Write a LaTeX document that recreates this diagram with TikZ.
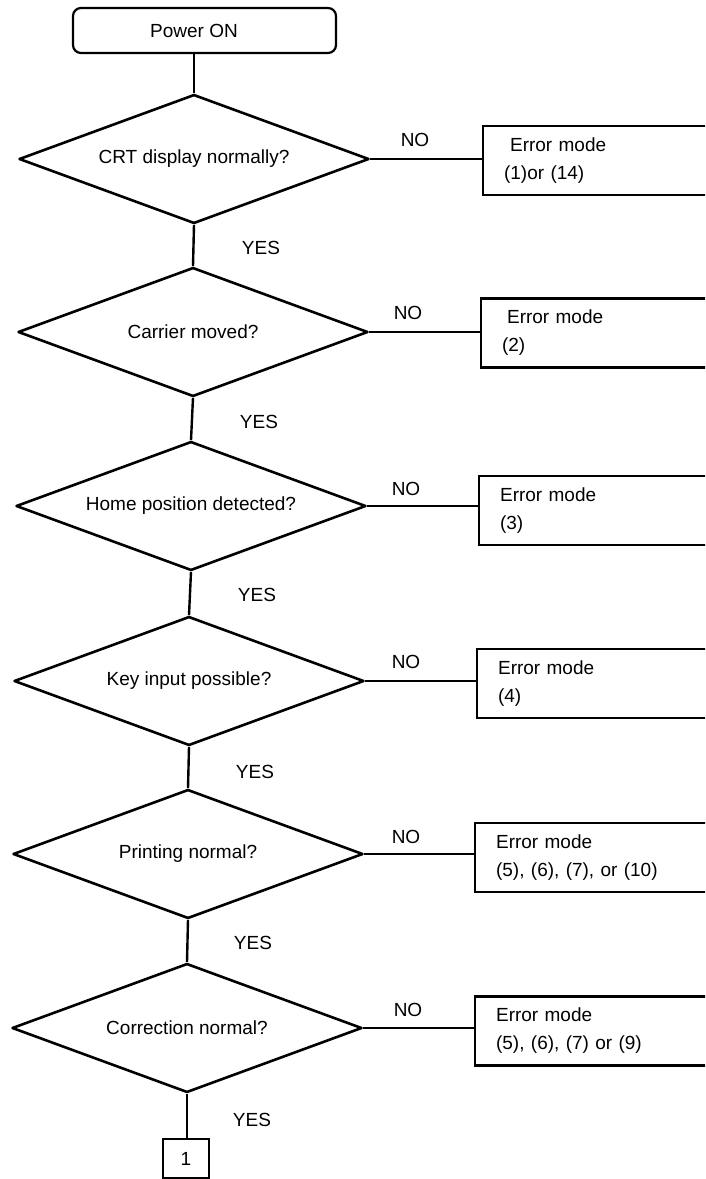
\documentclass[tikz,border=0pt]{standalone}
\usepackage{fontspec}
\setmainfont{Liberation Sans}
\usetikzlibrary{shapes.geometric}
\begin{document}
\begin{tikzpicture}[x=1pt,y=-1pt,
  every node/.style={font=\fontsize{19}{28}\selectfont},
  decision/.style={draw, shape=diamond, aspect=2.713, line width=2.6pt, line join=round,
    minimum width=350pt, minimum height=129pt, inner sep=0pt},
  errbox/.style={draw, line width=2.2pt, anchor=west, minimum height=69pt,
    text width=220pt, inner xsep=21pt, align=left},
  startbox/.style={draw, rounded corners=8pt, line width=2.2pt,
    minimum width=263pt, minimum height=45pt, inner sep=0pt},
  connbox/.style={draw, line width=2.2pt, minimum width=46pt, minimum height=39pt, inner sep=0pt},
  conn/.style={line width=2.4pt},
  lbl/.style={inner sep=0pt}]
\clip (0,0) rectangle (705,1179);
\fill[white] (0,0) rectangle (705,1179);

\node[startbox] (power) at (204.5,30.5) {Power ON\hspace*{21pt}};

\node[decision] (d1) at (194,159) {CRT display normally?};
\node[decision] (d2) at (193,332) {Carrier moved?};
\node[decision] (d3) at (191,506) {Home position detected?};
\node[decision] (d4) at (189,681) {Key input possible?};
\node[decision] (d5) at (188,854) {Printing normal?};
\node[decision] (d6) at (187,1028) {Correction normal?};

\node[errbox] (e1) at (482,160.5) {\hspace*{6pt}Error mode\\(1)or (14)};
\node[errbox] (e2) at (480,333) {\hspace*{5pt}Error mode\\(2)};
\node[errbox] (e3) at (478,510.5) {Error mode\\(3)};
\node[errbox] (e4) at (476,683.5) {Error mode\\(4)};
\node[errbox] (e5) at (474,857.5) {Error mode\\(5), (6), (7), or (10)};
\node[errbox] (e6) at (474,1031) {Error mode\\(5), (6), (7) or (9)};

\node[connbox] (c1) at (186,1158.5) {1};

\draw[conn] (power.south -| d1.north) -- (d1.north);
\draw[conn] (d1.south) -- (d2.north);
\draw[conn] (d2.south) -- (d3.north);
\draw[conn] (d3.south) -- (d4.north);
\draw[conn] (d4.south) -- (d5.north);
\draw[conn] (d5.south) -- (d6.north);
\draw[conn] (d6.south) -- (d6.south |- c1.north);

\draw[conn] (d1.east) -- (d1.east -| e1.west);
\draw[conn] (d2.east) -- (d2.east -| e2.west);
\draw[conn] (d3.east) -- (d3.east -| e3.west);
\draw[conn] (d4.east) -- (d4.east -| e4.west);
\draw[conn] (d5.east) -- (d5.east -| e5.west);
\draw[conn] (d6.east) -- (d6.east -| e6.west);

\node[lbl] (no1) at (415,140) {NO};
\node[lbl] (no2) at (408,313) {NO};
\node[lbl] (no3) at (406,489) {NO};
\node[lbl] (no4) at (406,662) {NO};
\node[lbl] (no5) at (406,837) {NO};
\node[lbl] (no6) at (408,1010) {NO};

\node[lbl] (yes1) at (261,248) {YES};
\node[lbl] (yes2) at (259,422) {YES};
\node[lbl] (yes3) at (257,595) {YES};
\node[lbl] (yes4) at (255,772) {YES};
\node[lbl] (yes5) at (253,943) {YES};
\node[lbl] (yes6) at (252,1120) {YES};
\end{tikzpicture}
\end{document}
